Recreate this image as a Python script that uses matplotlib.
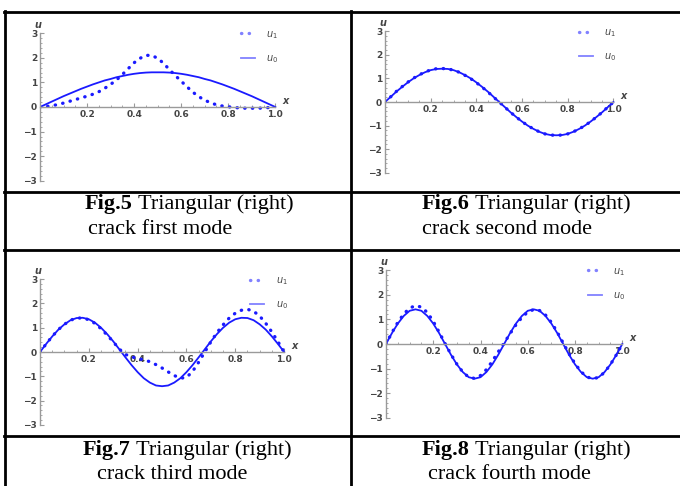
import matplotlib.pyplot as plt
from matplotlib.lines import Line2D
from matplotlib.ticker import MultipleLocator
import numpy as np

# sample positions along the beam (read every 0.025)
x = np.linspace(0, 1, 41)

# mode 1
u0_m1 = [0, .11, .22, .33, .44, .54, .64, .74, .83, .92, 1.00, 1.08, 1.14, 1.21, 1.26, 1.31, 1.35, 1.38, 1.40, 1.41,
         1.41, 1.41, 1.40, 1.38, 1.35, 1.31, 1.26, 1.21, 1.14, 1.08, 1.00, .92, .83, .74, .64, .54, .44, .33, .22, .11, 0]
u1_m1 = [0, .02, .05, .10, .16, .23, .30, .37, .44, .52, .62, .76, .92, 1.10, 1.32, 1.56, 1.80, 1.98, 2.10, 2.10,
         1.98, 1.78, 1.52, 1.28, 1.05, .82, .60, .42, .28, .17, .09, .04, .01, -.02, -.04, -.05, -.05, -.05, -.04, -.02, 0]

# mode 2
u0_m2 = [0, .22, .44, .64, .83, 1.00, 1.14, 1.26, 1.35, 1.40, 1.41, 1.40, 1.35, 1.26, 1.14, 1.00, .83, .64, .44, .22,
         0, -.22, -.44, -.64, -.83, -1.00, -1.14, -1.26, -1.35, -1.40, -1.41, -1.40, -1.35, -1.26, -1.14, -1.00, -.83, -.64, -.44, -.22, 0]
u1_m2 = [0, .22, .45, .65, .84, 1.01, 1.15, 1.27, 1.36, 1.41, 1.42, 1.40, 1.35, 1.26, 1.13, .99, .82, .63, .43, .21,
         0, -.22, -.44, -.64, -.83, -1.00, -1.14, -1.26, -1.35, -1.40, -1.41, -1.40, -1.35, -1.26, -1.14, -1.00, -.83, -.64, -.44, -.22, 0]

# mode 3
u0_m3 = [0, .33, .64, .92, 1.14, 1.31, 1.40, 1.41, 1.35, 1.21, 1.00, .74, .44, .11, -.22, -.54, -.83, -1.08, -1.26, -1.38,
         -1.41, -1.38, -1.26, -1.08, -.83, -.54, -.22, .11, .44, .74, 1.00, 1.21, 1.35, 1.41, 1.40, 1.31, 1.14, .92, .64, .33, 0]
u1_m3 = [0, .33, .64, .92, 1.14, 1.31, 1.40, 1.40, 1.33, 1.18, .96, .70, .42, .12, -.10, -.20, -.27, -.32, -.40, -.52,
         -.66, -.82, -.97, -1.08, -1.05, -.80, -.42, .00, .42, .80, 1.12, 1.40, 1.60, 1.72, 1.76, 1.68, 1.48, 1.18, .82, .42, 0]

# mode 4
u0_m4 = [0, .44, .83, 1.14, 1.35, 1.41, 1.35, 1.14, .83, .44, 0, -.44, -.83, -1.14, -1.35, -1.41, -1.35, -1.14, -.83, -.44,
         0, .44, .83, 1.14, 1.35, 1.41, 1.35, 1.14, .83, .44, 0, -.44, -.83, -1.14, -1.35, -1.41, -1.35, -1.14, -.83, -.44, 0]
u1_m4 = [0, .46, .88, 1.22, 1.46, 1.56, 1.50, 1.28, .92, .48, .02, -.42, -.82, -1.14, -1.35, -1.40, -1.28, -1.04, -.70, -.32,
         .04, .42, .78, 1.08, 1.30, 1.40, 1.36, 1.18, .88, .48, .04, -.40, -.80, -1.12, -1.34, -1.41, -1.36, -1.15, -.83, -.44, 0]

captions = [('Fig.5', 'crack first mode'), ('Fig.6', 'crack second mode'),
            ('Fig.7', 'crack third mode'), ('Fig.8', 'crack fourth mode')]

W, H = 680, 486
fig = plt.figure(figsize=(W / 100, H / 100), dpi=100)

def px(l, t, r, b):
    return [l / W, 1 - b / H, (r - l) / W, (b - t) / H]

boxes = [px(40, 32, 280, 182), px(385, 30, 618, 174), px(40, 278, 289, 426), px(386, 269, 627, 419)]
data = [(u0_m1, u1_m1), (u0_m2, u1_m2), (u0_m3, u1_m3), (u0_m4, u1_m4)]
blue = '#1a1aff'
grey = '#9a9a9a'
lab = '#444444'

for box, (u0, u1) in zip(boxes, data):
    ax = fig.add_axes(box)
    ax.patch.set_alpha(0)
    ax.plot(x, u1, color=blue, lw=2.4, linestyle=(0, (0.1, 2.2)), dash_capstyle='round', label='$u_1$')
    ax.plot(x, u0, color=blue, lw=1.3, label='$u_0$')
    ax.set_xlim(0, 1.02)
    ax.set_ylim(-3.05, 3.05)
    for s in ['top', 'right']:
        ax.spines[s].set_visible(False)
    for s in ['left', 'bottom']:
        ax.spines[s].set_position(('data', 0))
        ax.spines[s].set_color(grey)
        ax.spines[s].set_linewidth(1.0)
    ax.spines['bottom'].set_bounds(0, 1.0)
    ax.spines['left'].set_bounds(-3.0, 3.0)
    ax.set_xticks([0.2, 0.4, 0.6, 0.8, 1.0])
    ax.set_xticklabels(['0.2', '0.4', '0.6', '0.8', '1.0'])
    ax.set_yticks([-3, -2, -1, 0, 1, 2, 3])
    ax.set_yticklabels(['\u22123', '\u22122', '\u22121', '0', '1', '2', '3'])
    ax.xaxis.set_minor_locator(MultipleLocator(0.05))
    ax.yaxis.set_minor_locator(MultipleLocator(0.2))
    ax.tick_params(axis='both', which='major', direction='in', length=3, color=grey, width=0.8,
                   labelsize=6.5, labelcolor=lab, pad=2)
    ax.tick_params(axis='both', which='minor', direction='in', length=1.5, color=grey, width=0.6)
    for t in ax.get_xticklabels() + ax.get_yticklabels():
        t.set_fontweight('bold')
    ax.text(1.03, 0.05, 'x', style='italic', fontsize=7, color=lab, fontweight='bold', va='bottom')
    ax.text(-0.01, 3.15, 'u', style='italic', fontsize=7, color=lab, fontweight='bold', ha='center', va='bottom')
    leg = ax.legend(loc='upper right', bbox_to_anchor=(1.03, 1.08), frameon=False, fontsize=7,
                    handlelength=1.4, labelspacing=1.3, handletextpad=1.2)
    for h in leg.get_lines():
        h.set_alpha(0.55)
    for t in leg.get_texts():
        t.set_color(lab)

# table rules
def hline(y, x0=5, x1=W):
    fig.add_artist(Line2D([x0 / W, x1 / W], [1 - y / H, 1 - y / H], color='black', lw=2))

def vline(xx, y0=12, y1=H):
    fig.add_artist(Line2D([xx / W, xx / W], [1 - y0 / H, 1 - y1 / H], color='black', lw=2))

for yy in [12, 192, 250, 436]:
    hline(yy, 4)
for xx in [5, 351]:
    vline(xx, 11)

# captions
cap_pos = [(85, 88, 204, 230), (422, 422, 204, 230), (83, 97, 450, 474), (422, 428, 450, 474)]
serif = 'Liberation Serif'
fs = 16
for (a, b), (x1, x2, y1, y2) in zip(captions, cap_pos):
    t = fig.text(x1 / W, 1 - y1 / H, a, family=serif, fontweight='bold', fontsize=fs, va='center')
    fig.canvas.draw()
    bb = t.get_window_extent()
    fig.text((bb.x1 + 5) / W, 1 - y1 / H, 'Triangular (right)', family=serif, fontsize=fs, va='center')
    fig.text(x2 / W, 1 - y2 / H, b, family=serif, fontsize=fs, va='center')

fig.savefig('out.png', dpi=100)
